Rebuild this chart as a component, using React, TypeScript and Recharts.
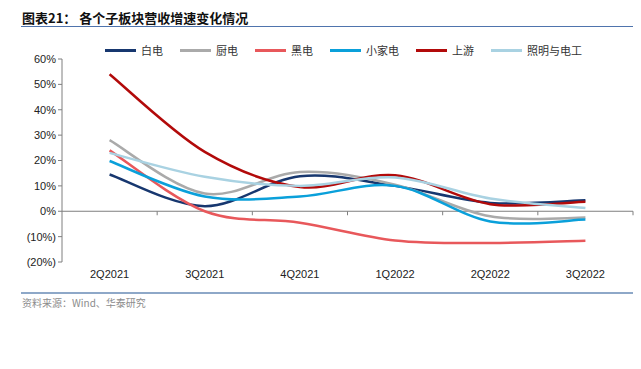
import { LineChart, Line, XAxis, YAxis, ReferenceLine } from "recharts";

const quarters = ["2Q2021", "3Q2021", "4Q2021", "1Q2022", "2Q2022", "3Q2022"];

// growth rates, fractions
const baiDian = [0.145, 0.02, 0.138, 0.1, 0.033, 0.043];
const chuDian = [0.28, 0.07, 0.155, 0.105, -0.02, -0.025];
const heiDian = [0.24, 0.0, -0.045, -0.115, -0.125, -0.116];
const xiaoJiaDian = [0.198, 0.058, 0.058, 0.1, -0.04, -0.033];
const shangYou = [0.54, 0.234, 0.096, 0.142, 0.028, 0.037];
const zhaoMing = [0.23, 0.136, 0.1, 0.133, 0.05, 0.013];

const yTicks = [-0.2, -0.1, 0, 0.1, 0.2, 0.3, 0.4, 0.5, 0.6];

const series = [
  { key: "baiDian", name: "白电", color: "#17376F" },
  { key: "chuDian", name: "厨电", color: "#AAAAAA" },
  { key: "heiDian", name: "黑电", color: "#E8585B" },
  { key: "xiaoJiaDian", name: "小家电", color: "#0AA0DA" },
  { key: "shangYou", name: "上游", color: "#B20A0A" },
  { key: "zhaoMing", name: "照明与电工", color: "#A9D2E2" },
];

const data = quarters.map((q, i) => ({
  q,
  baiDian: baiDian[i],
  chuDian: chuDian[i],
  heiDian: heiDian[i],
  xiaoJiaDian: xiaoJiaDian[i],
  shangYou: shangYou[i],
  zhaoMing: zhaoMing[i],
}));

const pct = (v: number) => {
  const r = Math.round(v * 100);
  return r < 0 ? `(${-r}%)` : `${r}%`;
};

const cjk = '"Noto Sans CJK SC", "Liberation Sans", sans-serif';

// Excel-like smoothing (Catmull-Rom through every point)
const excelSmooth = (ctx: any) => {
  let pts: number[][] = [];
  return {
    areaStart() {},
    areaEnd() {},
    lineStart() {
      pts = [];
    },
    point(x: number, y: number) {
      pts.push([+x, +y]);
    },
    lineEnd() {
      if (!pts.length) return;
      ctx.moveTo(pts[0][0], pts[0][1]);
      for (let i = 0; i < pts.length - 1; i++) {
        const p0 = pts[i - 1] || pts[i];
        const p1 = pts[i];
        const p2 = pts[i + 1];
        const p3 = pts[i + 2] || p2;
        ctx.bezierCurveTo(
          p1[0] + (p2[0] - p0[0]) / 6,
          p1[1] + (p2[1] - p0[1]) / 6,
          p2[0] - (p3[0] - p1[0]) / 6,
          p2[1] - (p3[1] - p1[1]) / 6,
          p2[0],
          p2[1]
        );
      }
    },
  };
};

function ZeroAxis(props: any) {
  const { x1, x2, y1 } = props;
  const n = quarters.length;
  const step = (x2 - x1) / n;
  const marks = [];
  for (let i = 1; i <= n; i++) {
    const x = x1 + step * i;
    marks.push(<line key={i} x1={x} x2={x} y1={y1} y2={y1 + 4} stroke="#7F7F7F" strokeWidth={1} />);
  }
  return (
    <g>
      <line x1={x1} x2={x2} y1={y1} y2={y1} stroke="#7F7F7F" strokeWidth={1} />
      {marks}
    </g>
  );
}

function LegendRow() {
  return (
    <div style={{ display: "flex", alignItems: "center", fontFamily: cjk, fontSize: 11, color: "#333" }}>
      {series.map((s) => (
        <div key={s.key} style={{ display: "flex", alignItems: "center", marginRight: 17 }}>
          <span style={{ display: "inline-block", width: 31, height: 3, background: s.color, marginRight: 5 }} />
          <span>{s.name}</span>
        </div>
      ))}
    </div>
  );
}

export default function App() {
  return (
    <div style={{ position: "absolute", left: 0, top: 0, width: 641, height: 369, background: "#fff", overflow: "hidden" }}>
      <div style={{ position: "absolute", left: 22, top: 8, fontFamily: cjk, fontWeight: 700, fontSize: 13, color: "#111" }}>
        图表21： 各个子板块营收增速变化情况
      </div>
      <div style={{ position: "absolute", left: 21, top: 26, width: 612, height: 1, background: "#4F74AD" }} />
      <div style={{ position: "absolute", left: 21, top: 292, width: 612, height: 2, background: "#8EA8C8" }} />
      <div style={{ position: "absolute", left: 22, top: 295, fontFamily: cjk, fontSize: 10, color: "#8C8C8C" }}>
        资料来源：Wind、华泰研究
      </div>
      <div style={{ position: "absolute", left: 0, top: 0 }}>
        <LineChart width={641} height={369} data={data} margin={{ top: 59, right: 8, bottom: 77, left: 12 }}>
          <XAxis
            dataKey="q"
            scale="band"
            axisLine={false}
            tickLine={false}
            height={30}
            tick={{ fill: "#222", fontSize: 11, fontFamily: "Liberation Sans, Arial, sans-serif" }}
            interval={0}
          />
          <YAxis
            domain={[-0.2, 0.6]}
            ticks={yTicks}
            width={50}
            tickFormatter={pct}
            axisLine={{ stroke: "#7F7F7F" }}
            tickLine={{ stroke: "#7F7F7F" }}
            tickSize={4}
            tick={{ fill: "#222", fontSize: 11, fontFamily: "Liberation Sans, Arial, sans-serif" }}
            interval={0}
          />
          <ReferenceLine y={0} shape={ZeroAxis} ifOverflow="visible" />
          {series.map((s) => (
            <Line
              key={s.key}
              type={excelSmooth as any}
              dataKey={s.key}
              name={s.name}
              stroke={s.color}
              strokeWidth={2.5}
              dot={false}
              activeDot={false}
              isAnimationActive={false}
            />
          ))}
        </LineChart>
      </div>
      <div style={{ position: "absolute", left: 105, top: 42 }}>
        <LegendRow />
      </div>
    </div>
  );
}
